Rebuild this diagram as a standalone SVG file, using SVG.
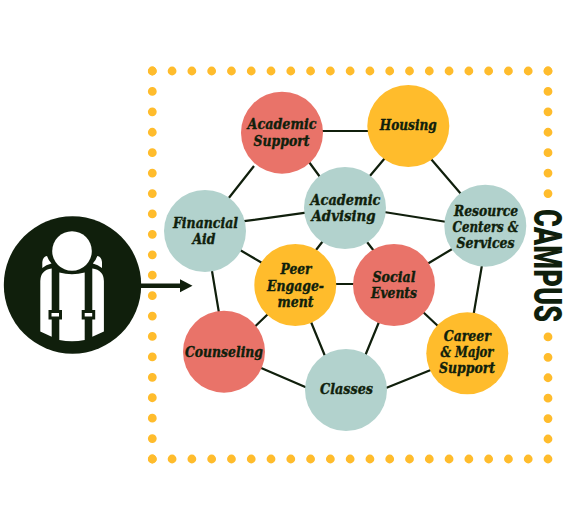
<svg xmlns="http://www.w3.org/2000/svg" width="575" height="529" viewBox="0 0 575 529">
<style>
.n{fill:#b2d2cd}.r{fill:#e97369}.y{fill:#ffbc2c}
.c{stroke:#101f0c;stroke-width:2.2;fill:none}
text{font-family:"DejaVu Serif","Liberation Serif",serif;font-style:italic;font-weight:700;font-size:14.500px;fill:#101f0c;text-anchor:middle;stroke:#101f0c;stroke-width:.4}
.d{fill:none;stroke:#ffbc2c;stroke-width:8.800;stroke-linecap:round}
.h{stroke-dasharray:0 19.785}.v{stroke-dasharray:0 20.421}
</style>
<defs><marker id="a" markerWidth="13" markerHeight="14" refX="0" refY="6.500" orient="auto" markerUnits="userSpaceOnUse" viewBox="0 0 13 13"><path d="M0 0L12.500 6.500L0 13z" fill="#101f0c"/></marker></defs>
<g id="border">
<path class="d h" d="M152.300 71H549"/>
<path class="d h" d="M152.300 459H549"/>
<path class="d v" d="M152.300 71V459"/>
<path class="d v" d="M548 71V194"/>
<path class="d v" d="M548 336.900V458"/>
</g>
<g id="connectors">
<path class="c" d="M320 131H370M254 166L228 199M309 162L320 177M385 158L369 177M431 159L461 194M244 221.200L306 212.600M384 212L447 222M323 241L316 250M367 242L374 251M240 250L263 263.500M212 271L219 313M335 284H355M268 314L255 326.500M311 322L325 356M260 367.500L307 387.700M428 263.500L453 248.500M482 265L473.500 315M423 312L439 327M379 322L365 356M386 388L432 369.500"/>
<path d="M140 285.700H180" stroke="#101f0c" stroke-width="4.500" fill="none" marker-end="url(#a)"/>
</g>
<g id="student">
<circle cx="72.500" cy="285" r="68.700" fill="#101f0c"/>
<path d="M40.300 281Q40.500 270 51.700 268.500V336.800L40.300 331.500ZM59.300 272.500Q72 276 84.700 272.500V340Q72 342.500 59.300 340ZM92.300 268.500Q103.700 270 103.900 281V331.500L92.300 336.800Z" fill="#fff"/>
<path d="M42.300 268V262Q43 256.500 47 256Q48.500 260.500 51.500 263.500Q46 264.500 42.300 268ZM102 268V262Q101.300 256.500 97.300 256Q95.800 260.500 92.800 263.500Q98 264.500 102 268Z" fill="#fff"/>
<circle cx="72" cy="251" r="19.800" fill="#fff"/>
<path d="M50 311.500h10.500v6.500H50zM83.200 311.500h10.500v6.500H83.200z" fill="#fff" stroke="#101f0c" stroke-width="3"/>
</g>
<g id="academic-support"><circle class="r" cx="282" cy="132.700" r="41"/><text x="282" y="129" textLength="69" lengthAdjust="spacingAndGlyphs">Academic</text><text x="281.500" y="145.700" textLength="56" lengthAdjust="spacingAndGlyphs">Support</text></g>
<g id="housing"><circle class="y" cx="408.300" cy="126" r="41"/><text x="408.300" y="130" textLength="57" lengthAdjust="spacingAndGlyphs">Housing</text></g>
<g id="academic-advising"><circle class="n" cx="345" cy="208" r="41"/><text x="345.500" y="205" textLength="70" lengthAdjust="spacingAndGlyphs">Academic</text><text x="343.500" y="221" textLength="64" lengthAdjust="spacingAndGlyphs">Advising</text></g>
<g id="financial-aid"><circle class="n" cx="205" cy="231" r="41"/><text x="205.500" y="228" textLength="65" lengthAdjust="spacingAndGlyphs">Financial</text><text x="204" y="244" textLength="23" lengthAdjust="spacingAndGlyphs">Aid</text></g>
<g id="resource-centers"><circle class="n" cx="485.300" cy="225.700" r="41"/><text x="486" y="216" textLength="64" lengthAdjust="spacingAndGlyphs">Resource</text><text x="485.500" y="232" textLength="66" lengthAdjust="spacingAndGlyphs">Centers &amp;</text><text x="485.500" y="248" textLength="58" lengthAdjust="spacingAndGlyphs">Services</text></g>
<g id="peer-engagement"><circle class="y" cx="295.300" cy="285" r="41"/><text x="296" y="274" textLength="31" lengthAdjust="spacingAndGlyphs">Peer</text><text x="295.500" y="291" textLength="57" lengthAdjust="spacingAndGlyphs">Engage-</text><text x="295.500" y="307" textLength="36" lengthAdjust="spacingAndGlyphs">ment</text></g>
<g id="social-events"><circle class="r" cx="394" cy="285" r="41"/><text x="394" y="282" textLength="43" lengthAdjust="spacingAndGlyphs">Social</text><text x="394" y="298" textLength="46" lengthAdjust="spacingAndGlyphs">Events</text></g>
<g id="counseling"><circle class="r" cx="224" cy="351.700" r="41"/><text x="224" y="357" textLength="78" lengthAdjust="spacingAndGlyphs">Counseling</text></g>
<g id="career"><circle class="y" cx="467.300" cy="353.300" r="41"/><text x="467.300" y="340.500" textLength="47" lengthAdjust="spacingAndGlyphs">Career</text><text x="467" y="357" textLength="53" lengthAdjust="spacingAndGlyphs">&amp; Major</text><text x="467" y="373" textLength="56" lengthAdjust="spacingAndGlyphs">Support</text></g>
<g id="classes"><circle class="n" cx="346" cy="390" r="41"/><text x="346.500" y="393.500" textLength="53" lengthAdjust="spacingAndGlyphs">Classes</text></g>
<g id="campus-label"><text transform="translate(534 209) rotate(90)" x="0" y="0" textLength="113" lengthAdjust="spacingAndGlyphs" style="font-family:Roboto,'Liberation Sans',sans-serif;font-style:normal;font-weight:900;font-size:38px;text-anchor:start;stroke:none">CAMPUS</text></g>
</svg>
